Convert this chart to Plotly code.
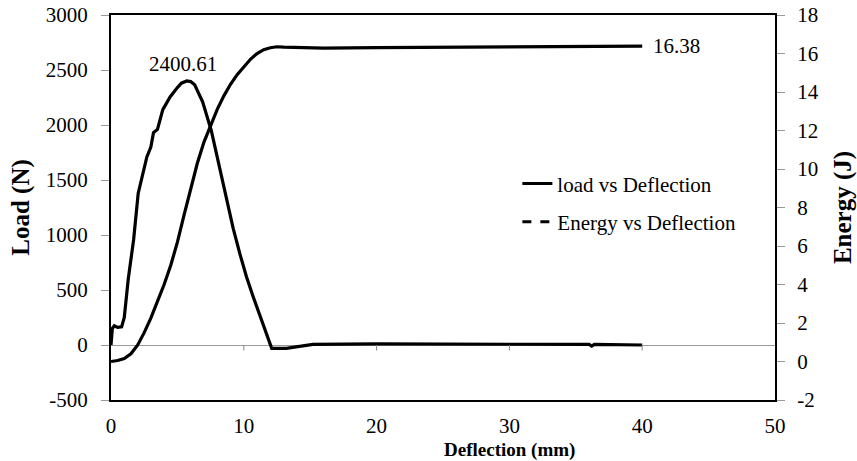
import plotly.graph_objects as go

# Load vs deflection (mm, N)
load_x = [0.0, 0.1, 0.25, 0.5, 0.8, 1.0, 1.3, 1.7, 2.05, 2.4, 2.7, 3.0, 3.2, 3.3, 3.5, 3.9,
          4.45, 5.0, 5.3, 5.7, 6.0, 6.3, 6.9, 7.55, 8.2, 8.7, 9.2, 9.7, 10.2, 10.7, 11.2, 11.7,
          12.1, 13.2, 15.2, 20.0, 25.0, 30.0, 36.0, 36.2, 36.4, 40.0]
load_y = [0, 150, 175, 160, 165, 250, 600, 955, 1380, 1560, 1710, 1800, 1930, 1940, 1960, 2140,
          2255, 2340, 2380, 2400.61, 2395, 2365, 2210, 1950, 1600, 1320, 1060, 830, 620, 440, 270, 110,
          -30, -30, 5, 10, 10, 8, 5, -10, 5, 0]

# Energy vs deflection (mm, J)
energy_x = [0.0, 0.5, 1.0, 1.5, 2.0, 2.5, 3.0, 3.5, 4.0, 4.5, 5.0, 5.5, 6.0, 6.5, 7.0, 7.5,
            8.0, 8.5, 9.0, 9.5, 10.0, 10.5, 11.0, 11.5, 12.0, 12.5, 13.0, 14.0, 16.0, 20.0,
            25.0, 30.0, 35.0, 40.0]
energy_y = [0.0, 0.05, 0.15, 0.4, 0.85, 1.5, 2.25, 3.1, 4.0, 5.0, 6.2, 7.6, 8.9, 10.3, 11.4, 12.3,
            13.1, 13.8, 14.4, 14.9, 15.3, 15.7, 16.0, 16.2, 16.3, 16.35, 16.33, 16.3, 16.28, 16.3,
            16.32, 16.34, 16.36, 16.38]

x_ticks = [0, 10, 20, 30, 40, 50]
load_ticks = [-500, 0, 500, 1000, 1500, 2000, 2500, 3000]
energy_ticks = [-2, 0, 2, 4, 6, 8, 10, 12, 14, 16, 18]

FONT = "Liberation Serif, Times New Roman, serif"
fs = 21

fig = go.Figure()
fig.add_trace(go.Scatter(x=load_x, y=load_y, mode="lines", line=dict(color="black", width=3.2),
                         name="load vs Deflection", showlegend=False, yaxis="y"))
fig.add_trace(go.Scatter(x=energy_x, y=energy_y, mode="lines", line=dict(color="black", width=3.2),
                         name="Energy vs Deflection", showlegend=False, yaxis="y2"))
# legend entries
fig.add_trace(go.Scatter(x=[None], y=[None], mode="lines", line=dict(color="black", width=3),
                         name="load vs Deflection", legendgroup="a"))
fig.add_trace(go.Scatter(x=[None], y=[None], mode="lines", line=dict(color="black", width=3, dash="dash"),
                         name="Energy vs Deflection", legendgroup="b"))

# peak & final value labels
pk = load_y.index(max(load_y))
fig.add_annotation(x=load_x[pk], y=load_y[pk], xref="x", yref="y", text=f"{load_y[pk]:.2f}",
                   showarrow=False, yshift=17, xshift=-4, font=dict(family=FONT, size=fs, color="black"))
fig.add_annotation(x=energy_x[-1], y=energy_y[-1], xref="x", yref="y2", text=f"{energy_y[-1]:.2f}",
                   showarrow=False, xanchor="left", xshift=9, font=dict(family=FONT, size=fs, color="black"))
# x-axis title
fig.add_annotation(x=0.6, y=0, xref="paper", yref="paper", yshift=-38, yanchor="top",
                   text="<b>Deflection (mm)</b>", showarrow=False, borderpad=0,
                   font=dict(family=FONT, size=19, color="black"))

# x tick marks on the zero line
for t in x_ticks[1:-1]:
    fig.add_shape(type="line", xref="x", yref="y", x0=t, x1=t, y0=0, y1=-50,
                  line=dict(color="#888888", width=1))

fig.update_layout(
    width=857, height=461,
    margin=dict(l=111, r=82, t=15, b=61, autoexpand=False),
    paper_bgcolor="white", plot_bgcolor="white",
    font=dict(family=FONT, size=fs, color="black"),
    xaxis=dict(range=[0, 50], tickvals=x_ticks, ticktext=[str(v) for v in x_ticks],
               showgrid=False, zeroline=False, automargin=False,
               showline=True, mirror=True, linecolor="black", linewidth=2,
               ticks="", ticklabelstandoff=6),
    yaxis=dict(range=[-500, 3000], tickvals=load_ticks, ticktext=[str(v) for v in load_ticks],
               showgrid=False, automargin=False,
               zeroline=True, zerolinecolor="#999999", zerolinewidth=1,
               showline=True, linecolor="black", linewidth=2,
               ticks="outside", ticklen=8, tickcolor="#999999", ticklabelstandoff=9,
               title=dict(text="<b>Load (N)</b>", standoff=9)),
    yaxis2=dict(range=[-2, 18], tickvals=energy_ticks, ticktext=[str(v) for v in energy_ticks],
                overlaying="y", side="right", automargin=False,
                showgrid=False, zeroline=False, showline=True, linecolor="black", linewidth=2,
                ticks="outside", ticklen=8, tickcolor="#999999", ticklabelstandoff=8,
                title=dict(text="<b>Energy (J)</b>", standoff=18)),
    legend=dict(x=0.612, y=0.615, xanchor="left", yanchor="top", bgcolor="rgba(0,0,0,0)",
                tracegroupgap=8, font=dict(family=FONT, size=fs)),
)

fig.write_html("out.html")
